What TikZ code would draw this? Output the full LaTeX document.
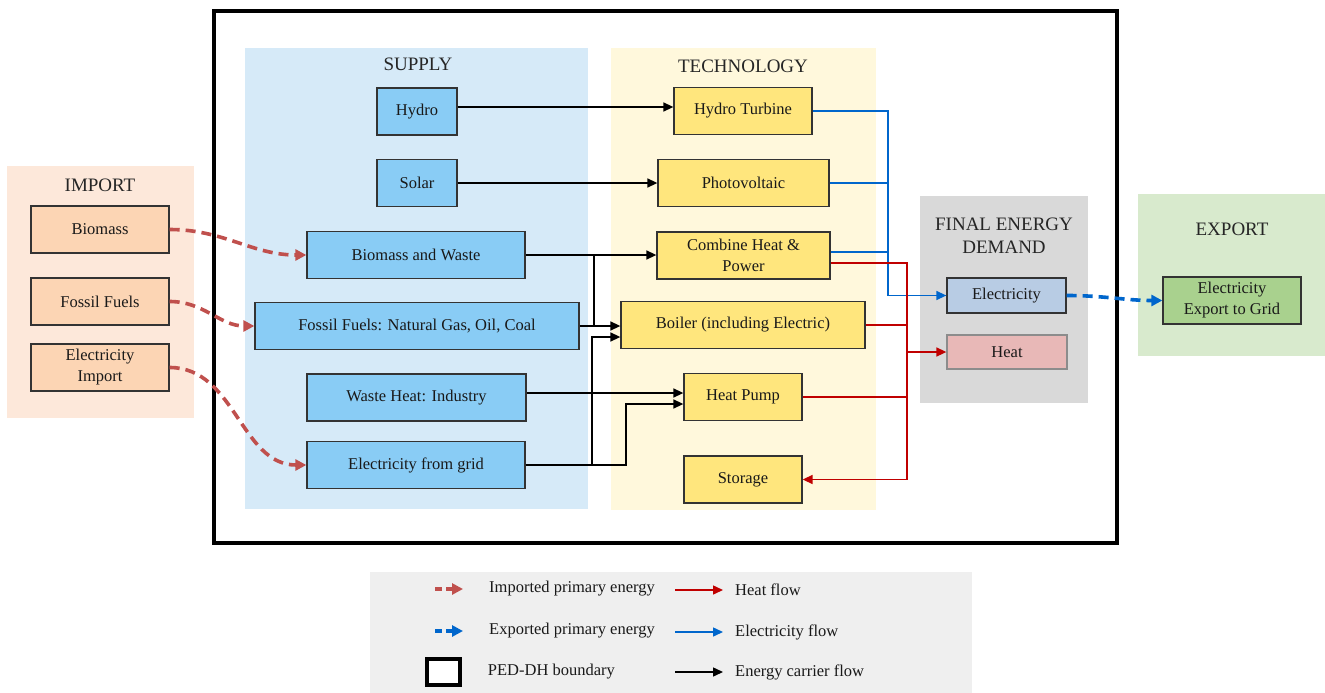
\documentclass[tikz,border=0pt]{standalone}
\usepackage{fontspec}
\setmainfont{Liberation Serif}
\usetikzlibrary{arrows.meta,positioning}

\definecolor{impbg}{RGB}{253,232,218}
\definecolor{impbox}{RGB}{252,213,180}
\definecolor{supbg}{RGB}{214,234,248}
\definecolor{supbox}{RGB}{137,204,245}
\definecolor{techbg}{RGB}{255,248,220}
\definecolor{techbox}{RGB}{255,230,125}
\definecolor{fedbg}{RGB}{217,217,217}
\definecolor{elbox}{RGB}{184,204,228}
\definecolor{heatbox}{RGB}{232,184,183}
\definecolor{expbg}{RGB}{216,234,205}
\definecolor{expbox}{RGB}{169,209,142}
\definecolor{legbg}{RGB}{239,239,239}
\definecolor{impred}{RGB}{192,80,77}
\definecolor{heatred}{RGB}{192,0,0}
\definecolor{elblue}{RGB}{0,102,204}

\begin{document}
\begin{tikzpicture}[x=1pt,y=-1pt,>={Triangle[length=10pt,width=9pt]},
  font=\fontsize{16.5}{21}\selectfont,
  paneltitle/.style={font=\fontsize{19}{23}\selectfont,text=black!85,align=center},
  box/.style={draw=black!80,line width=1.3pt,fill=#1,inner sep=0pt,minimum height=47pt,align=center,text=black!90},
  wire/.style={line width=1.5pt,draw=#1},
  carrier/.style={->,wire=black},
  elec/.style={->,wire=elblue},
  heat/.style={->,wire=heatred},
  impflow/.style={draw=impred,line width=3.6pt,dash pattern=on 10pt off 6pt,-{Triangle[length=11pt,width=11pt]}},
  expflow/.style={impflow,draw=elblue},
  legtxt/.style={inner sep=0pt,anchor=west,text=black!90}]
\useasboundingbox (0,0) rectangle (1325,693);

% panels
\fill[impbg] (7,166) rectangle (194,418);
\fill[supbg] (245,48) rectangle (588,509);
\fill[techbg] (611,48) rectangle (876,510);
\fill[fedbg] (920,196) rectangle (1088,403);
\fill[expbg] (1138,194) rectangle (1325,356);
\fill[legbg] (370,572) rectangle (972,693);
\draw[line width=3.2pt] (214,11) rectangle (1117,543);

\node[paneltitle] (timp) at (100,185) {IMPORT};
\node[paneltitle] (tsup) at (418,64) {SUPPLY};
\node[paneltitle] (ttech) at (743,66) {TECHNOLOGY};
\node[paneltitle] (tfed) at (1004,236) {FINAL ENERGY\\DEMAND};
\node[paneltitle] (texp) at (1232,229) {EXPORT};

% import
\node[box=impbox,minimum width=138pt] (bio) at (100,229.5) {Biomass};
\node[box=impbox,minimum width=138pt] (fos) at (100,301.5) {Fossil Fuels};
\node[box=impbox,minimum width=138pt] (eimp) at (100,367.5) {Electricity\\Import};
% supply
\node[box=supbox,minimum width=80pt] (hy) at (417,111.5) {Hydro};
\node[box=supbox,minimum width=80pt] (so) at (417,183) {Solar};
\node[box=supbox,minimum width=218pt] (bw) at (416,255) {Biomass and Waste};
\node[box=supbox,minimum width=324pt] (ff) at (417,326) {Fossil Fuels: Natural Gas, Oil, Coal};
\node[box=supbox,minimum width=219pt] (wh) at (416.5,397.5) {Waste Heat: Industry};
\node[box=supbox,minimum width=218pt] (eg) at (416,465) {Electricity from grid};
% technology
\node[box=techbox,minimum width=138pt] (ht) at (743,111) {Hydro Turbine};
\node[box=techbox,minimum width=171pt] (pv) at (743.5,183) {Photovoltaic};
\node[box=techbox,minimum width=173pt] (chp) at (743.5,255.5) {Combine Heat \&\\Power};
\node[box=techbox,minimum width=244pt] (boil) at (743,325) {Boiler (including Electric)};
\node[box=techbox,minimum width=118pt] (hp) at (743,397) {Heat Pump};
\node[box=techbox,minimum width=118pt] (sto) at (743,479.5) {Storage};
% demand and export
\node[box=elbox,minimum width=119pt,minimum height=35pt] (el) at (1006.5,295.5) {Electricity};
\node[box=heatbox,draw=black!45,minimum width=120pt,minimum height=34pt] (heat) at (1007,352) {Heat};
\node[box=expbox,minimum width=138pt] (exg) at (1232,300.5) {Electricity\\Export to Grid};

\coordinate (cb) at (594,0);
\coordinate (gb) at (592,0);
\coordinate (hpb) at (626,0);
\coordinate (eb) at (888,0);
\coordinate (hb) at (907,0);
\coordinate (hyout) at ([yshift=4.5pt]hy.east);
\coordinate (boilin) at ([yshift=-12pt]boil.west);
\coordinate (hpin) at ([yshift=-7pt]hp.west);
\coordinate (hpin2) at ([yshift=4pt]hp.west);
\coordinate (chpel) at ([yshift=3.5pt]chp.east);
\coordinate (chpht) at ([yshift=-7.5pt]chp.east);

% energy carriers
\draw[carrier] (hyout) -- (hyout -| ht.west);
\draw[carrier] (so) -- (pv);
\draw[carrier] (bw.east) -- (bw.east -| chp.west);
\draw[wire=black] (bw.east -| cb) -- (cb |- ff.east);
\draw[carrier] (ff.east) -- (ff.east -| boil.west);
\draw[carrier] (eg.east) -| (gb |- boilin) -- (boilin);
\draw[carrier] (eg.east) -| (hpb |- hpin) -- (hpin);
\draw[carrier] (wh.east |- hpin2) -- (hpin2);

% electricity
\draw[elec] (ht.east) -| (eb |- el.west) -- (el.west);
\draw[wire=elblue] (pv.east) -- (pv.east -| eb);
\draw[wire=elblue] (chpel) -- (chpel -| eb);

% heat
\draw[heat] (chpht) -| (hb |- sto.east) -- (sto.east);
\draw[wire=heatred] (boil.east) -- (boil.east -| hb);
\draw[wire=heatred] (hp.east) -- (hp.east -| hb);
\draw[heat] (hb |- heat.west) -- (heat.west);

% import / export
\draw[impflow] (bio.east) to[out=0,in=180] (bw.west);
\draw[impflow] (fos.east) to[out=0,in=180] (ff.west);
\draw[impflow] (eimp.east) to[out=0,in=180] (eg.west);
\draw[expflow] (el.east) to[out=0,in=180] (exg.west);

% legend
\coordinate (l1a) at (435,589); \coordinate (l1b) at (463,589);
\coordinate (l2a) at (435,631); \coordinate (l2b) at (463,631);
\coordinate (l4a) at (675,590); \coordinate (l4b) at (723,590);
\coordinate (l5a) at (675,632); \coordinate (l5b) at (723,632);
\coordinate (l6a) at (675,672); \coordinate (l6b) at (723,672);
\draw[impflow,dash pattern=on 7pt off 4pt] (l1a) -- (l1b);
\draw[expflow,dash pattern=on 7pt off 4pt] (l2a) -- (l2b);
\node[draw,line width=3.5pt,fill=white,minimum width=33pt,minimum height=26pt] (l3) at (443.5,672) {};
\draw[heat] (l4a) -- (l4b);
\draw[elec] (l5a) -- (l5b);
\draw[carrier] (l6a) -- (l6b);
\node[legtxt,right=26pt of l1b] (t1) {Imported primary energy};
\node[legtxt,right=26pt of l2b] (t2) {Exported primary energy};
\node[legtxt,right=26pt of l3.east] (t3) {PED-DH boundary};
\node[legtxt,right=12pt of l4b] (t4) {Heat flow};
\node[legtxt,right=12pt of l5b] (t5) {Electricity flow};
\node[legtxt,right=12pt of l6b] (t6) {Energy carrier flow};
\end{tikzpicture}
\end{document}
